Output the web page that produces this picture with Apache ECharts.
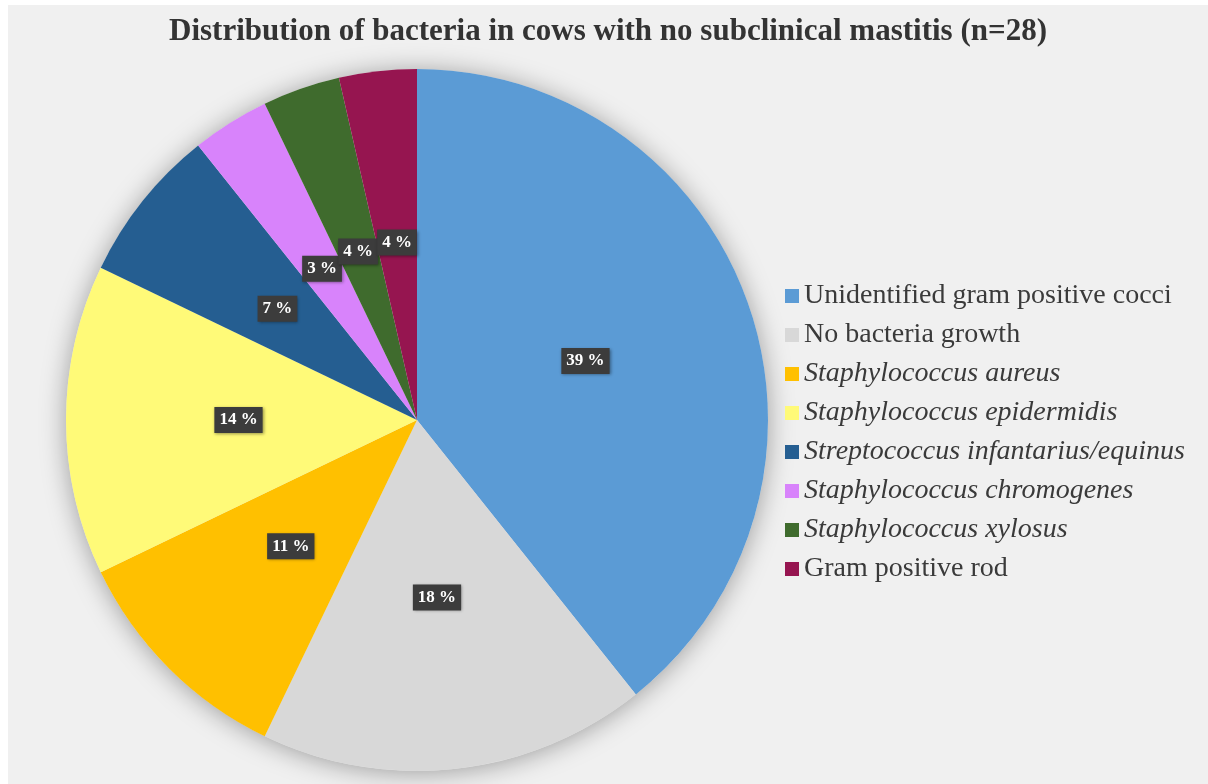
<!DOCTYPE html>
<html>
<head>
<meta charset="utf-8">
<script src="https://cdn.jsdelivr.net/npm/echarts@6/dist/echarts.min.js"></script>
<style>
  html, body { margin: 0; padding: 0; background: #ffffff; }
  #pie { position: absolute; left: 8px; top: 5px; width: 1200px; height: 779px; }
</style>
</head>
<body>
<div id="pie"></div>
<script>
// categories and counts (n=28)
const categories = [
  "Unidentified gram positive cocci",
  "No bacteria growth",
  "Staphylococcus aureus",
  "Staphylococcus epidermidis",
  "Streptococcus infantarius/equinus",
  "Staphylococcus chromogenes",
  "Staphylococcus xylosus",
  "Gram positive rod"
];
const counts = [11, 5, 3, 4, 2, 1, 1, 1];
// percent labels as printed on the slices
const percentLabels = ["39 %", "18 %", "11 %", "14 %", "7 %", "3 %", "4 %", "4 %"];
// species names written in italics
const italicFlags = [false, false, true, true, true, true, true, false];
const colors = ["#5b9bd5", "#d8d8d8", "#ffc000", "#fffa78", "#255e91", "#d883fb", "#3f6b2d", "#961550"];

const serif = "'Liberation Serif', 'DejaVu Serif', serif";

const option = {
  backgroundColor: "#f0f0f0",
  animation: false,
  color: colors,
  title: {
    text: "Distribution of bacteria in cows with no subclinical mastitis (n=28)",
    left: "center",
    top: 6,
    textStyle: {
      fontFamily: serif,
      fontSize: 31,
      fontWeight: "bold",
      color: "#333333"
    }
  },
  legend: {
    orient: "vertical",
    left: 772,
    top: 272,
    icon: "rect",
    itemWidth: 14,
    itemHeight: 14,
    itemGap: 11,
    itemTextGap: 8,
    data: categories,
    formatter: function (name) {
      const i = categories.indexOf(name);
      return italicFlags[i] ? "{i|" + name + "}" : "{n|" + name + "}";
    },
    textStyle: {
      fontFamily: serif,
      fontSize: 28,
      color: "#3a3a3a",
      rich: {
        n: { fontFamily: serif, fontSize: 28, lineHeight: 28, color: "#3a3a3a" },
        i: { fontFamily: serif, fontSize: 28, lineHeight: 28, color: "#3a3a3a", fontStyle: "italic" }
      }
    }
  },
  series: [
    {
      // backdrop disc that carries the soft shadow
      type: "pie",
      silent: true,
      center: [409, 415],
      radius: 351,
      z: 1,
      label: { show: false },
      labelLine: { show: false },
      itemStyle: {
        color: "#e6e6e6",
        shadowBlur: 26,
        shadowColor: "rgba(0,0,0,0.35)",
        shadowOffsetY: 2
      },
      data: [{ value: 1, name: "" }]
    },
    {
      type: "pie",
      center: [409, 415],
      radius: 351,
      startAngle: 90,
      clockwise: true,
      avoidLabelOverlap: false,
      z: 2,
      labelLayout: { hideOverlap: false },
      label: {
        show: true,
        position: "inside",
        formatter: function (p) { return percentLabels[p.dataIndex]; },
        fontFamily: serif,
        fontSize: 17,
        fontWeight: "bold",
        color: "#ffffff",
        backgroundColor: "#3c3c3c",
        padding: [5, 5, 4, 5],
        shadowBlur: 3,
        shadowColor: "rgba(0,0,0,0.4)",
        shadowOffsetX: 1,
        shadowOffsetY: 1
      },
      labelLine: { show: false },
      emphasis: { disabled: true },
      data: categories.map(function (c, i) {
        return { name: c, value: counts[i] };
      })
    }
  ]
};

const chart = echarts.init(document.getElementById("pie"));
chart.setOption(option);
</script>
</body>
</html>
